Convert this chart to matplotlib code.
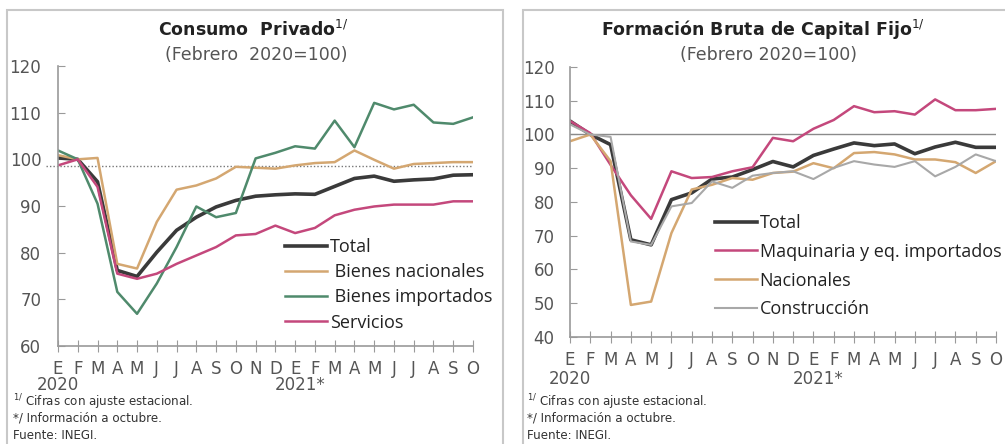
import matplotlib.pyplot as plt
from matplotlib.patches import Rectangle

# Datos (índice Febrero 2020 = 100)
meses = ['E', 'F', 'M', 'A', 'M', 'J', 'J', 'A', 'S', 'O', 'N', 'D',
         'E', 'F', 'M', 'A', 'M', 'J', 'J', 'A', 'S', 'O']

cp_total = [100.3, 100.0, 95.2, 76.2, 74.9, 80.1, 84.8, 87.6, 89.8, 91.2, 92.1,
            92.4, 92.6, 92.5, 94.2, 95.9, 96.4, 95.3, 95.6, 95.8, 96.6, 96.7]
cp_nacionales = [100.9, 100.0, 100.3, 77.6, 76.6, 86.6, 93.5, 94.4, 95.9, 98.4, 98.2,
                 98.0, 98.7, 99.2, 99.4, 101.9, 99.9, 98.0, 99.0, 99.2, 99.4, 99.4]
cp_importados = [101.9, 100.0, 90.5, 71.6, 66.9, 73.4, 81.2, 89.9, 87.6, 88.5, 100.2,
                 101.4, 102.8, 102.3, 108.3, 102.6, 112.1, 110.7, 111.7, 107.9, 107.6, 109.0]
cp_servicios = [98.7, 100.0, 94.1, 75.5, 74.4, 75.5, 77.6, 79.4, 81.2, 83.7, 84.0,
                85.8, 84.2, 85.3, 88.0, 89.2, 89.9, 90.3, 90.3, 90.3, 91.0, 91.0]
cp_referencia = 98.6

fb_total = [104.0, 100.0, 97.0, 68.8, 67.3, 80.7, 82.7, 86.8, 87.4, 89.6, 92.0,
            90.4, 93.8, 95.7, 97.5, 96.7, 97.2, 94.3, 96.3, 97.7, 96.2, 96.2]
fb_maquinaria = [104.0, 100.4, 91.0, 82.0, 75.0, 89.1, 87.1, 87.4, 89.1, 90.3, 99.0,
                 98.0, 101.7, 104.3, 108.4, 106.6, 106.9, 105.9, 110.4, 107.2, 107.2, 107.6]
fb_nacionales = [98.0, 100.0, 92.1, 49.5, 50.5, 70.8, 83.7, 85.1, 87.1, 86.6, 88.6,
                 89.0, 91.5, 90.0, 94.5, 94.8, 94.1, 92.6, 92.6, 91.8, 88.6, 92.1]
fb_construccion = [103.0, 100.0, 99.3, 68.3, 67.3, 78.7, 79.7, 86.1, 84.2, 87.8, 88.6,
                   89.1, 86.8, 90.1, 92.1, 91.1, 90.4, 92.1, 87.6, 90.4, 94.1, 92.1]
fb_referencia = 100

C_TOTAL = '#3a3a3a'
C_TAN = '#d4a771'
C_VERDE = '#4f8a6c'
C_ROSA = '#c4487c'
C_GRIS = '#a8a8a8'
C_EJE = '#9a9a9a'
C_TXT = '#555555'
FS = 12

W, H = 1005, 444
fig = plt.figure(figsize=(W / 100, H / 100), dpi=100)

# marcos de los paneles
fig.add_artist(Rectangle((7 / W, -0.05), 496 / W, 1.05 - 10 / H, transform=fig.transFigure,
                         fill=False, edgecolor='#c8c8c8', lw=1.5))
fig.add_artist(Rectangle((523 / W, -0.05), 500 / W, 1.05 - 10 / H, transform=fig.transFigure,
                         fill=False, edgecolor='#c8c8c8', lw=1.5))

ax1 = fig.add_axes([58 / W, 98 / H, 415 / W, 280 / H])
ax2 = fig.add_axes([570 / W, 107 / H, 426 / W, 270 / H])

x = list(range(len(meses)))


def estilo(ax, ylo, yhi, ypad):
    ax.set_xlim(0, len(meses) - 1)
    ax.set_ylim(ylo, yhi)
    ax.set_yticks(range(ylo, yhi + 1, 10))
    ax.set_xticks(x)
    ax.set_xticklabels(meses)
    for s in ['top', 'right']:
        ax.spines[s].set_visible(False)
    for s in ['left', 'bottom']:
        ax.spines[s].set_color(C_EJE)
        ax.spines[s].set_linewidth(1.2)
    ax.tick_params(axis='y', direction='in', length=5, color=C_EJE, labelsize=FS,
                   labelcolor=C_TXT, pad=ypad)
    ax.tick_params(axis='x', direction='inout', length=8, color=C_EJE, labelsize=FS,
                   labelcolor=C_TXT, pad=6)
    ax.patch.set_alpha(0)


leyenda = dict(loc='upper left', frameon=False, borderpad=0, borderaxespad=0,
               labelcolor='#222222', prop={'family': 'Open Sans', 'size': 13})

# Consumo privado
estilo(ax1, 60, 120, 12)
ax1.axhline(cp_referencia, xmin=-0.03, xmax=1.0, color='#777777', lw=1, ls=(0, (1, 1.5)),
            clip_on=False)
ax1.plot(x, cp_total, color=C_TOTAL, lw=2.6, label='Total')
ax1.plot(x, cp_nacionales, color=C_TAN, lw=1.8, label=' Bienes nacionales')
ax1.plot(x, cp_importados, color=C_VERDE, lw=1.8, label=' Bienes importados')
ax1.plot(x, cp_servicios, color=C_ROSA, lw=1.8, label='Servicios')
ax1.legend(bbox_to_anchor=(0.548, 0.386), handlelength=2.3, handletextpad=0.15,
           labelspacing=0.4, **leyenda)

# Formación bruta de capital fijo
estilo(ax2, 40, 120, 11)
ax2.axhline(fb_referencia, color='#8a8a8a', lw=1)
ax2.plot(x, fb_total, color=C_TOTAL, lw=2.6, label='Total')
ax2.plot(x, fb_maquinaria, color=C_ROSA, lw=1.8, label='Maquinaria y eq. importados')
ax2.plot(x, fb_nacionales, color=C_TAN, lw=1.8, label='Nacionales')
ax2.plot(x, fb_construccion, color=C_GRIS, lw=1.5, label='Construcción')
ax2.legend(bbox_to_anchor=(0.341, 0.456), handlelength=2.3, handletextpad=0.15,
           labelspacing=0.6, **leyenda)

# años bajo el eje
for ax, off in [(ax1, -39), (ax2, -42)]:
    ax.annotate('2020', xy=(0, 0), xycoords=('data', 'axes fraction'), xytext=(0, off),
                textcoords='offset pixels', ha='center', va='center', fontsize=FS, color=C_TXT)
    ax.annotate('2021*', xy=(12.25, 0), xycoords=('data', 'axes fraction'), xytext=(0, off),
                textcoords='offset pixels', ha='center', va='center', fontsize=FS, color=C_TXT)

# títulos
fig.text(253 / W, 1 - 30 / H, 'Consumo  Privado$^{1/}$', ha='center', va='center',
         fontsize=12.5, fontweight='bold', color='#222222')
fig.text(256 / W, 1 - 55 / H, '(Febrero  2020=100)', ha='center', va='center',
         fontsize=12.5, color=C_TXT)
fig.text(763 / W, 1 - 30 / H, 'Formación Bruta de Capital Fijo$^{1/}$', ha='center',
         va='center', fontsize=12.5, fontweight='bold', color='#222222')
fig.text(768 / W, 1 - 55 / H, '(Febrero 2020=100)', ha='center', va='center',
         fontsize=12.5, color=C_TXT)

# notas
notas = ['$^{1/}$ Cifras con ajuste estacional.', '*/ Información a octubre.', 'Fuente: INEGI.']
for xn in [13, 527]:
    for t, yn in zip(notas, [402, 418, 435]):
        fig.text(xn / W, 1 - yn / H, t, ha='left', va='center', fontsize=8.6, color='#333333')

fig.savefig('out.png', dpi=100)
